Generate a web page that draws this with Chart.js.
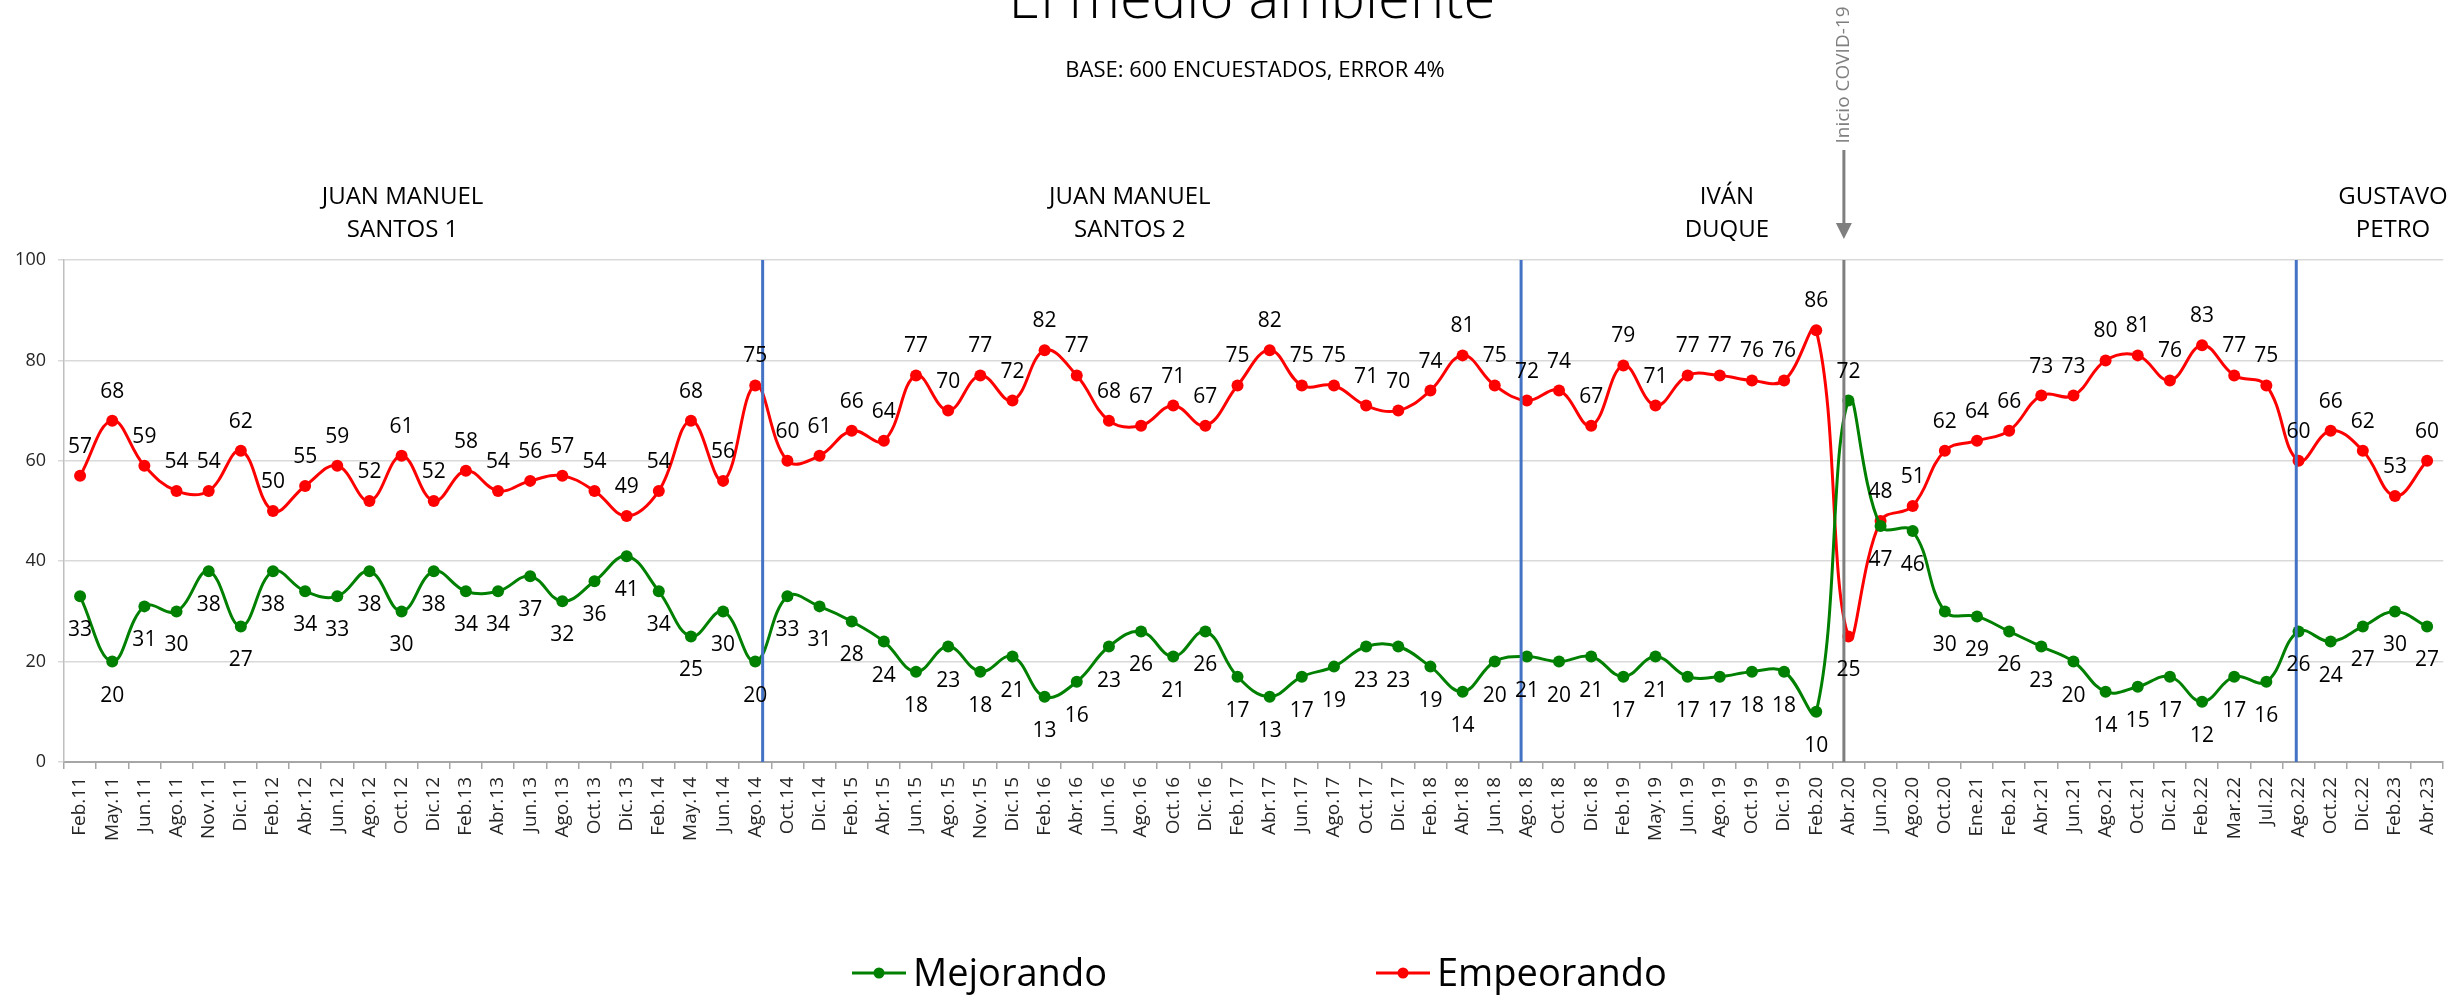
<!DOCTYPE html>
<html lang="es">
<head>
<meta charset="utf-8">
<title>El medio ambiente</title>
<script src="https://cdn.jsdelivr.net/npm/chart.js@4.4.1/dist/chart.umd.min.js"></script>
<style>
	html, body { margin: 0; padding: 0; background: #ffffff; }
	#wrap { position: relative; width: 2458px; height: 995px; }
</style>
</head>
<body>
<div id="wrap"><canvas id="medio_chart" width="2458" height="995"></canvas></div>
<script>
// ---------- Data ----------
var periods = [
	'Feb.11', 'May.11', 'Jun.11', 'Ago.11', 'Nov.11', 'Dic.11',
	'Feb.12', 'Abr.12', 'Jun.12', 'Ago.12', 'Oct.12', 'Dic.12',
	'Feb.13', 'Abr.13', 'Jun.13', 'Ago.13', 'Oct.13', 'Dic.13',
	'Feb.14', 'May.14', 'Jun.14', 'Ago.14', 'Oct.14', 'Dic.14',
	'Feb.15', 'Abr.15', 'Jun.15', 'Ago.15', 'Nov.15', 'Dic.15',
	'Feb.16', 'Abr.16', 'Jun.16', 'Ago.16', 'Oct.16', 'Dic.16',
	'Feb.17', 'Abr.17', 'Jun.17', 'Ago.17', 'Oct.17', 'Dic.17',
	'Feb.18', 'Abr.18', 'Jun.18', 'Ago.18', 'Oct.18', 'Dic.18',
	'Feb.19', 'May.19', 'Jun.19', 'Ago.19', 'Oct.19', 'Dic.19',
	'Feb.20', 'Abr.20', 'Jun.20', 'Ago.20', 'Oct.20',
	'Ene.21', 'Feb.21', 'Abr.21', 'Jun.21', 'Ago.21', 'Oct.21', 'Dic.21',
	'Feb.22', 'Mar.22', 'Jul.22', 'Ago.22', 'Oct.22', 'Dic.22',
	'Feb.23', 'Abr.23'
];

var mejorando = [
	33, 20, 31, 30, 38, 27,
	38, 34, 33, 38, 30, 38,
	34, 34, 37, 32, 36, 41,
	34, 25, 30, 20, 33, 31,
	28, 24, 18, 23, 18, 21,
	13, 16, 23, 26, 21, 26,
	17, 13, 17, 19, 23, 23,
	19, 14, 20, 21, 20, 21,
	17, 21, 17, 17, 18, 18,
	10, 72, 47, 46, 30,
	29, 26, 23, 20, 14, 15, 17,
	12, 17, 16, 26, 24, 27,
	30, 27
];

var empeorando = [
	57, 68, 59, 54, 54, 62,
	50, 55, 59, 52, 61, 52,
	58, 54, 56, 57, 54, 49,
	54, 68, 56, 75, 60, 61,
	66, 64, 77, 70, 77, 72,
	82, 77, 68, 67, 71, 67,
	75, 82, 75, 75, 71, 70,
	74, 81, 75, 72, 74, 67,
	79, 71, 77, 77, 76, 76,
	86, 25, 48, 51, 62,
	64, 66, 73, 73, 80, 81, 76,
	83, 77, 75, 60, 66, 62,
	53, 60
];

var yTicks = [0, 20, 40, 60, 80, 100];

var presidents = [
	['JUAN MANUEL', 'SANTOS 1'],
	['JUAN MANUEL', 'SANTOS 2'],
	['IVÁN', 'DUQUE'],
	['GUSTAVO', 'PETRO']
];

// ---------- Annotation placement (category index units) ----------
var presidentCenters = [10.03, 32.65, 51.22, 71.94];
var termDividers = [21.23, 44.82, 68.93];
var covidIndex = 54.86;

var FONT = "'Open Sans', 'DejaVu Sans', sans-serif";
var GREEN = '#008000';
var RED = '#ff0000';

// ---------- Term dividers + COVID line ----------
var dividerPlugin = {
	id: 'termDividers',
	afterDatasetsDraw: function (chart) {
		var ctx = chart.ctx;
		var x = chart.scales.x;
		var area = chart.chartArea;
		ctx.save();
		ctx.lineWidth = 3;
		ctx.strokeStyle = '#4472c4';
		termDividers.forEach(function (idx) {
			var px = x.getPixelForValue(idx);
			ctx.beginPath();
			ctx.moveTo(px, area.top);
			ctx.lineTo(px, area.bottom);
			ctx.stroke();
		});
		var cx = x.getPixelForValue(covidIndex);
		ctx.strokeStyle = '#7f7f7f';
		ctx.beginPath();
		ctx.moveTo(cx, area.top);
		ctx.lineTo(cx, area.bottom);
		ctx.stroke();
		ctx.restore();
	}
};

// ---------- Value labels ----------
var valueLabelPlugin = {
	id: 'valueLabels',
	afterDatasetsDraw: function (chart) {
		var ctx = chart.ctx;
		ctx.save();
		ctx.font = '21px ' + FONT;
		ctx.fillStyle = '#000000';
		ctx.textAlign = 'center';
		ctx.textBaseline = 'middle';
		chart.data.datasets.forEach(function (ds, di) {
			var meta = chart.getDatasetMeta(di);
			var other = chart.data.datasets[1 - di].data;
			meta.data.forEach(function (pt, i) {
				// higher series gets its label above, lower one below
				var above = ds.data[i] >= other[i];
				ctx.fillText(String(ds.data[i]), pt.x, above ? pt.y - 29 : pt.y + 34);
			});
		});
		ctx.restore();
	}
};

// ---------- Titles, president names, COVID arrow, legend ----------
var headerPlugin = {
	id: 'header',
	afterDraw: function (chart) {
		var ctx = chart.ctx;
		var x = chart.scales.x;
		ctx.save();
		ctx.fillStyle = '#000000';
		ctx.textAlign = 'center';
		ctx.textBaseline = 'alphabetic';

		ctx.font = '300 58px ' + FONT;
		ctx.fillText('El medio ambiente', 1252, 18);

		ctx.font = '22px ' + FONT;
		ctx.fillText('BASE: 600 ENCUESTADOS, ERROR 4%', 1255, 77);

		ctx.font = '24px ' + FONT;
		presidents.forEach(function (lines, i) {
			var px = x.getPixelForValue(presidentCenters[i]);
			ctx.fillText(lines[0], px, 204);
			ctx.fillText(lines[1], px, 237);
		});

		// COVID arrow
		var cx = x.getPixelForValue(covidIndex);
		ctx.fillStyle = '#7f7f7f';
		ctx.strokeStyle = '#7f7f7f';
		ctx.lineWidth = 3;
		ctx.beginPath();
		ctx.moveTo(cx, 150);
		ctx.lineTo(cx, 226);
		ctx.stroke();
		ctx.beginPath();
		ctx.moveTo(cx - 8, 223);
		ctx.lineTo(cx + 8, 223);
		ctx.lineTo(cx, 239);
		ctx.closePath();
		ctx.fill();
		ctx.save();
		ctx.translate(cx, 75);
		ctx.rotate(-Math.PI / 2);
		ctx.font = '19px ' + FONT;
		ctx.textBaseline = 'middle';
		ctx.fillText('Inicio COVID-19', 0, 0);
		ctx.restore();

		// legend
		var items = [
			{ label: 'Mejorando', color: GREEN, x0: 852 },
			{ label: 'Empeorando', color: RED, x0: 1376 }
		];
		ctx.font = '38px ' + FONT;
		ctx.textAlign = 'left';
		items.forEach(function (it) {
			ctx.strokeStyle = it.color;
			ctx.fillStyle = it.color;
			ctx.lineWidth = 3;
			ctx.beginPath();
			ctx.moveTo(it.x0, 973);
			ctx.lineTo(it.x0 + 54, 973);
			ctx.stroke();
			ctx.beginPath();
			ctx.arc(it.x0 + 27, 973, 5.5, 0, Math.PI * 2);
			ctx.fill();
			ctx.fillStyle = '#000000';
			ctx.fillText(it.label, it.x0 + 61, 986);
		});
		ctx.restore();
	}
};

// ---------- Chart ----------
var ctxMain = document.getElementById('medio_chart').getContext('2d');

new Chart(ctxMain, {
	type: 'line',
	data: {
		labels: periods,
		datasets: [{
			label: 'Mejorando',
			data: mejorando,
			borderColor: GREEN,
			backgroundColor: GREEN,
			pointBackgroundColor: GREEN
		}, {
			label: 'Empeorando',
			data: empeorando,
			borderColor: RED,
			backgroundColor: RED,
			pointBackgroundColor: RED
		}]
	},
	options: {
		responsive: false,
		animation: false,
		layout: { padding: { top: 260, right: 12, left: 0, bottom: 0 } },
		elements: {
			line: { tension: 0.4, borderWidth: 3, fill: false },
			point: { radius: 6, borderWidth: 0, hoverRadius: 6 }
		},
		scales: {
			x: {
				offset: true,
				grid: { offset: true, drawOnChartArea: false, tickLength: 7, color: '#a6a6a6', lineWidth: 1.5 },
				border: { color: '#a6a6a6', width: 2 },
				ticks: {
					autoSkip: false,
					minRotation: 90,
					maxRotation: 90,
					padding: 8,
					color: '#262626',
					font: { family: FONT, size: 19 }
				},
				afterFit: function (scale) { scale.height = 233; }
			},
			y: {
				min: 0,
				max: 100,
				afterBuildTicks: function (scale) {
					scale.ticks = yTicks.map(function (v) { return { value: v }; });
				},
				grid: { color: '#d9d9d9', lineWidth: 1.5, tickLength: 6 },
				border: { color: '#bfbfbf', width: 1.5 },
				ticks: { padding: 12, color: '#262626', font: { family: FONT, size: 18 } },
				afterFit: function (scale) { scale.width = 64; }
			}
		},
		plugins: {
			legend: { display: false },
			tooltip: { enabled: false }
		}
	},
	plugins: [dividerPlugin, valueLabelPlugin, headerPlugin]
});
</script>
</body>
</html>
